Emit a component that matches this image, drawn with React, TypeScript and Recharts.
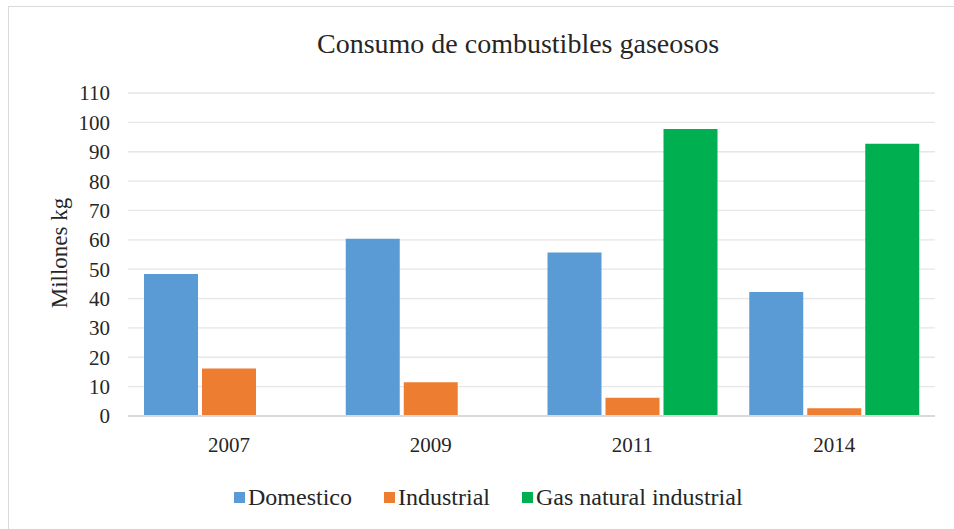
import React from 'react';
import { BarChart, Bar, XAxis, YAxis, CartesianGrid, Legend } from 'recharts';

const years = ['2007', '2009', '2011', '2014'];
const seriesNames = ['Domestico', 'Industrial', 'Gas natural industrial'];
const domestico = [48.4, 60.4, 55.7, 42.2];
const industrial = [16.2, 11.5, 6.2, 2.6];
const gasNatural = [null, null, 97.7, 92.7];
const yTicks = [0, 10, 20, 30, 40, 50, 60, 70, 80, 90, 100, 110];

const serif = '"Liberation Serif", "Times New Roman", serif';

const data = years.map((year, i) => ({
    year,
    domestico: domestico[i],
    industrial: industrial[i],
    gas: gasNatural[i],
}));

// keep legend in series order (recharts sorts by name otherwise)
const renderLegend = (props: any) => {
    const items = [...(props.payload || [])].sort(
        (a: any, b: any) => seriesNames.indexOf(a.value) - seriesNames.indexOf(b.value)
    );
    return (
        <div style={{ display: 'flex', alignItems: 'center', paddingLeft: 234 }}>
            {items.map((entry: any) => (
                <div key={entry.value} style={{ display: 'flex', alignItems: 'center', marginRight: 32 }}>
                    <span style={{ width: 11, height: 11, background: entry.color, marginRight: 3, display: 'inline-block' }} />
                    <span style={{ fontFamily: serif, fontSize: 24, color: '#262626', lineHeight: '26px' }}>{entry.value}</span>
                </div>
            ))}
        </div>
    );
};

export default function App() {
    return (
        <div style={{ position: 'absolute', left: 0, top: 0, width: 954, height: 529, background: '#fff' }}>
            <BarChart
                width={954}
                height={529}
                data={data}
                margin={{ top: 93, right: 19, left: 0, bottom: 83 }}
                barCategoryGap={16}
                barGap={4}
            >
                <rect x={8.5} y={6.5} width={1000} height={1000} fill="none" stroke="#d9d9d9" strokeWidth={1} />
                <text x={518} y={53} textAnchor="middle" fontFamily={serif} fontSize={28} fill="#262626">
                    Consumo de combustibles gaseosos
                </text>
                <text
                    x={59}
                    y={253}
                    transform="rotate(-90 59 253)"
                    textAnchor="middle"
                    dominantBaseline="central"
                    fontFamily={serif}
                    fontSize={23}
                    fill="#262626"
                >
                    Millones kg
                </text>
                <CartesianGrid vertical={false} stroke="#e6e6e6" strokeWidth={1.3} />
                <XAxis
                    dataKey="year"
                    height={30}
                    tickLine={false}
                    axisLine={{ stroke: '#d9d9d9', strokeWidth: 2 }}
                    tickMargin={15}
                    tick={{ fill: '#262626', fontSize: 21, fontFamily: serif }}
                />
                <YAxis
                    width={128}
                    domain={[0, 110]}
                    ticks={yTicks}
                    interval={0}
                    axisLine={false}
                    tickLine={false}
                    tickMargin={12}
                    tick={{ fill: '#262626', fontSize: 21, fontFamily: serif }}
                />
                <Legend
                    content={renderLegend}
                    layout="horizontal"
                    verticalAlign="middle"
                    align="center"
                    wrapperStyle={{ position: 'absolute', top: 484, left: 0, width: 954 }}
                />
                <Bar dataKey="domestico" name={seriesNames[0]} fill="#5B9BD5" isAnimationActive={false} />
                <Bar dataKey="industrial" name={seriesNames[1]} fill="#ED7D31" isAnimationActive={false} />
                <Bar dataKey="gas" name={seriesNames[2]} fill="#00B050" isAnimationActive={false} />
            </BarChart>
        </div>
    );
}
